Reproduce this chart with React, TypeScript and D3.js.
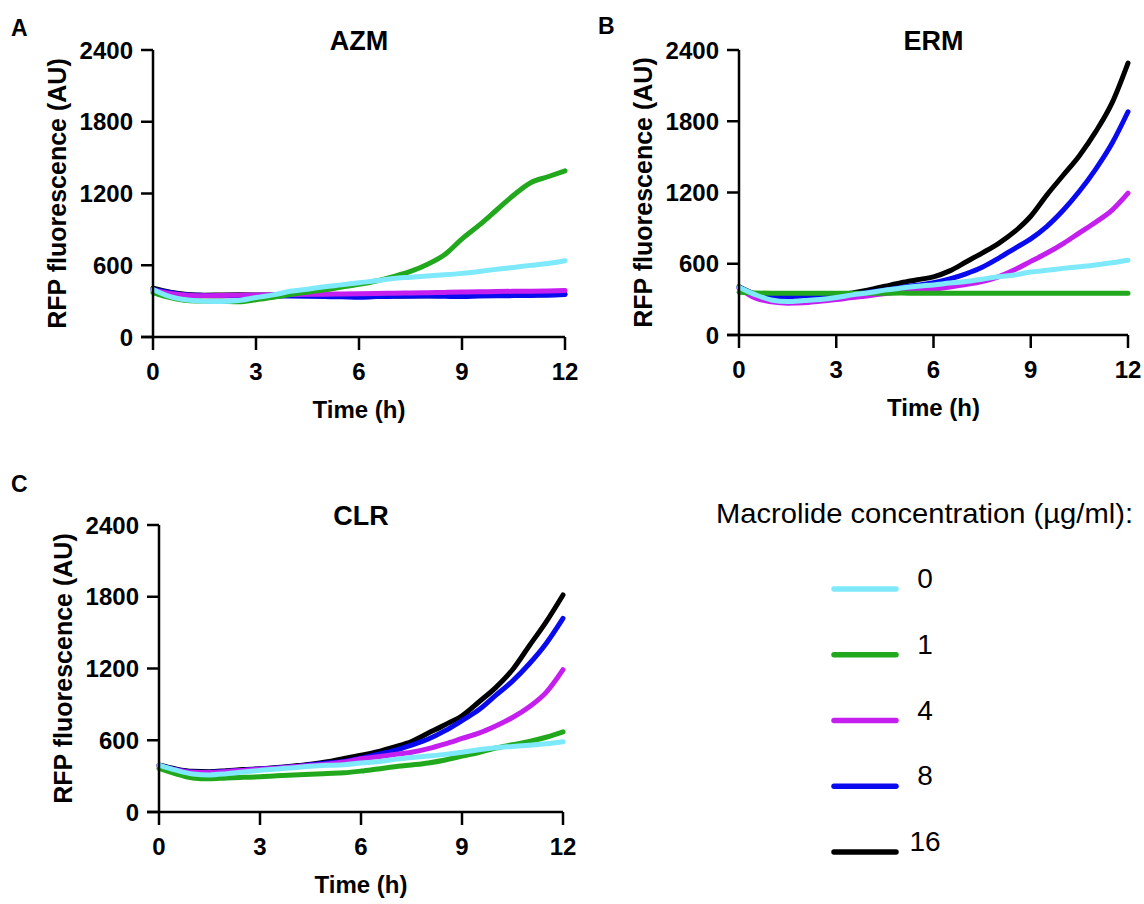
import * as d3 from "d3";

// time points (h)
const times = [0, 0.5, 1, 1.5, 2, 2.5, 3, 3.5, 4, 4.5, 5, 5.5, 6, 6.5, 7, 7.5, 8, 8.5, 9, 9.5, 10, 10.5, 11, 11.5, 12];

const concentrations = ["0", "1", "4", "8", "16"];
const colors = ["#7ee9fa", "#21a81c", "#c51ff0", "#0a0aef", "#000000"];

// RFP fluorescence, one array per concentration
const azm0 = [398, 337, 309, 298, 296, 305, 330, 352, 382, 400, 420, 436, 454, 470, 490, 500, 510, 520, 532, 548, 566, 582, 599, 615, 638];
const azm1 = [372, 330, 305, 300, 298, 295, 312, 333, 355, 375, 395, 418, 440, 468, 505, 548, 608, 690, 820, 935, 1060, 1185, 1290, 1340, 1390];
const azm4 = [392, 365, 350, 345, 347, 350, 352, 354, 355, 357, 358, 360, 362, 364, 366, 368, 371, 373, 376, 378, 380, 382, 383, 385, 388];
const azm8 = [398, 372, 352, 348, 345, 344, 345, 343, 342, 340, 338, 336, 332, 338, 340, 341, 342, 340, 338, 342, 345, 346, 348, 350, 356];
const azm16 = [408, 375, 356, 350, 352, 353, 352, 351, 350, 348, 346, 346, 345, 343, 342, 344, 345, 347, 348, 349, 350, 351, 352, 355, 358];

const erm0 = [402, 340, 295, 282, 290, 298, 315, 338, 355, 378, 395, 410, 422, 437, 450, 470, 490, 505, 530, 545, 561, 575, 590, 608, 630];
const erm1 = [360, 354, 352, 352, 351, 352, 352, 351, 352, 352, 353, 352, 352, 352, 351, 352, 352, 352, 352, 351, 352, 352, 352, 352, 352];
const erm4 = [395, 312, 280, 268, 272, 285, 298, 315, 330, 350, 365, 375, 388, 405, 425, 450, 490, 550, 620, 690, 770, 860, 950, 1050, 1195];
const erm8 = [400, 345, 318, 315, 318, 320, 326, 340, 360, 380, 400, 420, 440, 472, 515, 570, 645, 728, 810, 915, 1050, 1210, 1395, 1610, 1880];
const erm16 = [407, 345, 325, 322, 325, 328, 335, 355, 380, 410, 440, 465, 490, 540, 615, 690, 770, 870, 1000, 1180, 1345, 1510, 1710, 1950, 2290];

const clr0 = [393, 350, 318, 310, 320, 335, 348, 360, 370, 382, 390, 395, 410, 420, 440, 455, 468, 482, 500, 520, 538, 548, 558, 570, 588];
const clr1 = [365, 320, 285, 278, 285, 290, 295, 303, 310, 316, 322, 328, 342, 360, 378, 393, 410, 435, 468, 498, 535, 562, 590, 625, 670];
const clr4 = [388, 352, 332, 330, 338, 348, 358, 366, 378, 390, 402, 418, 445, 462, 480, 500, 530, 570, 615, 660, 720, 790, 880, 1000, 1190];
const clr8 = [390, 355, 335, 333, 340, 350, 360, 368, 380, 395, 410, 422, 450, 482, 515, 560, 610, 680, 765, 855, 975, 1095, 1240, 1410, 1620];
const clr16 = [393, 360, 340, 337, 345, 355, 362, 372, 385, 400, 420, 447, 475, 505, 545, 590, 660, 730, 805, 920, 1040, 1190, 1390, 1590, 1815];

const yTicks = [0, 600, 1200, 1800, 2400];
const xTicks = [0, 3, 6, 9, 12];

const font = "'Liberation Sans', Arial, Helvetica, sans-serif";

const panels = [
  { letter: "A", title: "AZM", series: [azm0, azm1, azm4, azm8, azm16], left: 153, right: 565, top: 50, bottom: 337, lx: 11, ly: 36 },
  { letter: "B", title: "ERM", series: [erm0, erm1, erm4, erm8, erm16], left: 739, right: 1128, top: 50, bottom: 335, lx: 598, ly: 34 },
  { letter: "C", title: "CLR", series: [clr0, clr1, clr4, clr8, clr16], left: 159, right: 563, top: 525, bottom: 812, lx: 11, ly: 492 },
];

function Panel({ p }) {
  const x = d3.scaleLinear().domain([0, 12]).range([p.left, p.right]);
  const y = d3.scaleLinear().domain([0, 2400]).range([p.bottom, p.top]);
  const line = d3
    .line<number>()
    .x((_, i) => x(times[i]))
    .y((d) => y(d))
    .curve(d3.curveMonotoneX);
  const order = [4, 3, 2, 1, 0];
  const mid = (p.left + p.right) / 2;

  return (
    <g>
      <text x={p.lx} y={p.ly} fontSize="23" fontWeight="700">
        {p.letter}
      </text>
      <text x={mid} y={p.top} textAnchor="middle" fontSize="27" fontWeight="700">
        {p.title}
      </text>

      {order.map((k) => (
        <path
          key={k}
          d={line(p.series[k]) ?? ""}
          fill="none"
          stroke={colors[k]}
          strokeWidth={5}
          strokeLinejoin="round"
          strokeLinecap="round"
        />
      ))}

      {/* axes */}
      <line x1={p.left} x2={p.left} y1={p.top} y2={p.bottom} stroke="#000" strokeWidth={2.5} />
      <line x1={p.left - 12} x2={p.right} y1={p.bottom} y2={p.bottom} stroke="#000" strokeWidth={2.5} />
      {yTicks.map((t) => (
        <g key={`y${t}`}>
          <line x1={p.left - 12} x2={p.left} y1={y(t)} y2={y(t)} stroke="#000" strokeWidth={2.5} />
          <text x={p.left - 20} y={y(t) + 8.5} textAnchor="end" fontSize="24" fontWeight="700">
            {t}
          </text>
        </g>
      ))}
      {xTicks.map((t) => (
        <g key={`x${t}`}>
          <line x1={x(t)} x2={x(t)} y1={p.bottom} y2={p.bottom + 13} stroke="#000" strokeWidth={2.5} />
          <text x={x(t)} y={p.bottom + 43} textAnchor="middle" fontSize="24" fontWeight="700">
            {t}
          </text>
        </g>
      ))}

      <text
        transform={`translate(${p.left - 87},${(p.top + p.bottom) / 2}) rotate(-90)`}
        textAnchor="middle"
        fontSize="25"
        fontWeight="700"
      >
        RFP fluorescence (AU)
      </text>
      <text x={mid} y={p.bottom + 81} textAnchor="middle" fontSize="24" fontWeight="700">
        Time (h)
      </text>
    </g>
  );
}

export default function App() {
  const width = 1144;
  const height = 904;
  const legendY = d3.scalePoint().domain(concentrations).range([589, 852]);

  return (
    <div style={{ position: "absolute", left: 0, top: 0, background: "#fff" }}>
      <svg width={width} height={height} style={{ display: "block", fontFamily: font }}>
        <rect width={width} height={height} fill="#fff" />
        {panels.map((p) => (
          <Panel key={p.letter} p={p} />
        ))}

        <text x={716} y={523} fontSize="28" textLength={417} lengthAdjust="spacingAndGlyphs">
          Macrolide concentration (µg/ml):
        </text>
        {concentrations.map((c, i) => (
          <g key={c}>
            <line
              x1={834}
              x2={896}
              y1={legendY(c)}
              y2={legendY(c)}
              stroke={colors[i]}
              strokeWidth={5.5}
              strokeLinecap="round"
            />
            <text x={925} y={(legendY(c) ?? 0) - 1} textAnchor="middle" fontSize="28">
              {c}
            </text>
          </g>
        ))}
      </svg>
    </div>
  );
}
